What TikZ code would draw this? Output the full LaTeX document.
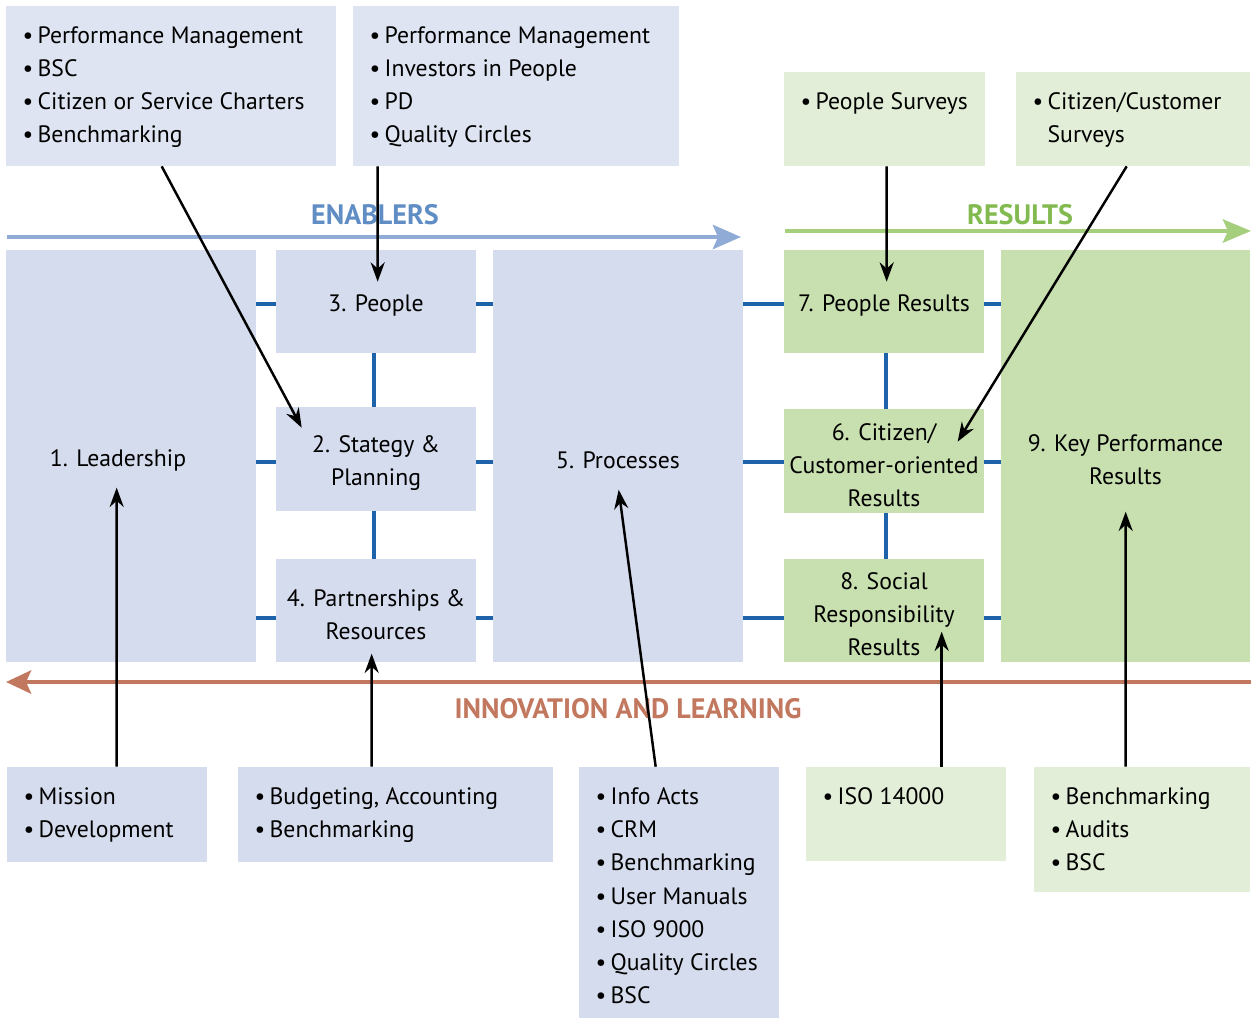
\documentclass[tikz,border=0pt]{standalone}
\usepackage{fontspec}
\setmainfont{PT Sans}
\usetikzlibrary{arrows.meta, calc}
\definecolor{boxblue}{RGB}{213,220,237}
\definecolor{topblue}{RGB}{222,228,241}
\definecolor{boxgreen}{RGB}{200,223,175}
\definecolor{lightgreen}{RGB}{226,238,215}
\definecolor{linkblue}{RGB}{30,98,170}
\definecolor{enabline}{RGB}{143,171,214}
\definecolor{enabtext}{RGB}{96,141,196}
\definecolor{resline}{RGB}{165,206,125}
\definecolor{restext}{RGB}{130,186,80}
\definecolor{innocol}{RGB}{194,120,95}
\newcommand{\blt}{\textbullet\hspace{2.5pt}}
\tikzset{
    %Define standard arrow tip
    >={Stealth[length=11pt,width=8pt]},
}

\begin{document}
\begin{tikzpicture}[x=0.02cm, y=-0.02cm,
    font=\fontsize{13.5}{18.8}\selectfont,
    box/.style = {inner sep=0pt, align=center, minimum width=4cm},
    enabbox/.style = {box, fill=boxblue},
    resbox/.style = {box, fill=boxgreen},
    crit/.style = {label={[align=center, yshift=-0.08cm]center:#1}},
    list/.style = {anchor=north west, align=left, inner sep=0pt,
                   xshift=0.33cm, yshift=-0.42cm},
    link/.style = {linkblue, line width=1.8pt},
    pointer/.style = {->, black, line width=1.4pt},
    flow/.style = {line width=2.8pt},
    head/.style = {font=\fontsize{16}{18}\selectfont\bfseries},
  ]
  \useasboundingbox (0,0) rectangle (1253,1019);

  % tools above
  \node[box, fill=topblue, minimum width=6.6cm, minimum height=3.2cm,
        label={[list]north west:\blt Performance Management\\
          \blt BSC\\ \blt Citizen or Service Charters\\
          \blt Benchmarking}] (tl) at (171,86) {};
  \node[box, fill=topblue, minimum width=6.52cm, minimum height=3.2cm,
        label={[list]north west:\blt Performance Management\\
          \blt Investors in People\\ \blt PD\\
          \blt Quality Circles}] (tm) at (516,86) {};
  \node[box, fill=lightgreen, minimum width=4.02cm, minimum height=1.88cm,
        label={[list]north west:\blt People Surveys}] (ps) at (884.5,119) {};
  \node[box, fill=lightgreen, minimum width=4.68cm, minimum height=1.88cm,
        label={[list]north west:\blt Citizen/Customer\\
          \phantom{\blt}Surveys}] (ccs) at (1133,119) {};

  % criteria
  \node[enabbox, minimum width=5cm, minimum height=8.24cm,
        label={[xshift=-0.26cm, yshift=-0.08cm]center:1. Leadership}] (lead) at (131,456) {};
  \node[enabbox, minimum height=2.06cm, crit={3. People}] (people) at (376,301.5) {};
  \node[enabbox, minimum height=2.08cm, crit={2. Stategy \&\\Planning}] (strat) at (376,459) {};
  \node[enabbox, minimum height=2.06cm, crit={4. Partnerships \&\\Resources}] (partner) at (376,610.5) {};
  \node[enabbox, minimum width=5cm, minimum height=8.24cm, crit={5. Processes}] (proc) at (618,456) {};
  \node[resbox, minimum height=2.06cm, crit={7. People Results}] (pres) at (884,301.5) {};
  \node[resbox, minimum height=2.08cm, crit={6. Citizen/\\Customer-oriented\\Results}] (cres) at (884,461) {};
  \node[resbox, minimum height=2.06cm, crit={8. Social\\Responsibility\\Results}] (sres) at (884,610.5) {};
  \node[resbox, minimum width=4.98cm, minimum height=8.24cm, crit={9. Key Performance\\Results}] (kpr) at (1125.5,456) {};

  \foreach \n/\s in {people/-0.05, strat/-0.06, partner/-0.15} {
    \draw[link] ([yshift=\s cm]\n.west) -- ([yshift=\s cm]\n.west -| lead.east);
    \draw[link] ([yshift=\s cm]\n.east) -- ([yshift=\s cm]\n.east -| proc.west);
  }
  \foreach \n/\s in {pres/-0.05, cres/-0.02, sres/-0.15} {
    \draw[link] ([yshift=\s cm]\n.west) -- ([yshift=\s cm]\n.west -| proc.east);
    \draw[link] ([yshift=\s cm]\n.east) -- ([yshift=\s cm]\n.east -| kpr.west);
  }
  \draw[link] ([xshift=-0.04cm]people.south) -- ([xshift=-0.04cm]strat.north);
  \draw[link] ([xshift=-0.04cm]strat.south) -- ([xshift=-0.04cm]partner.north);
  \draw[link] ([xshift=0.04cm]pres.south) -- ([xshift=0.04cm]cres.north);
  \draw[link] ([xshift=0.04cm]cres.south) -- ([xshift=0.04cm]sres.north);

  % main flows
  \coordinate (enab-l) at (7,237);
  \coordinate (enab-r) at (741,237);
  \coordinate (res-l) at (785,231);
  \coordinate (res-r) at (1251,231);
  \coordinate (inno-r) at (1251,682);
  \coordinate (inno-l) at (6,682);
  \draw[flow, enabline, -{Stealth[length=0.56cm, width=0.48cm, inset=0.1cm]}] (enab-l) -- (enab-r);
  \draw[flow, resline, -{Stealth[length=0.56cm, width=0.46cm, inset=0.1cm]}] (res-l) -- (res-r);
  \draw[flow, innocol, -{Stealth[length=0.5cm, width=0.46cm, inset=0.1cm]}] (inno-r) -- (inno-l);
  \node[head, enabtext] (enablers) at (375,215) {ENABLERS};
  \node[head, restext] (results) at (1020,215) {RESULTS};
  \node[head, innocol] (innovation) at (628,709) {INNOVATION AND LEARNING};

  % tools below
  \node[box, fill=boxblue, minimum height=1.9cm,
        label={[list]north west:\blt Mission\\ \blt Development}] (mission) at (107,814.5) {};
  \node[box, fill=boxblue, minimum width=6.3cm, minimum height=1.9cm,
        label={[list]north west:\blt Budgeting, Accounting\\
          \blt Benchmarking}] (budget) at (395.5,814.5) {};
  \node[box, fill=boxblue, minimum height=5.02cm,
        label={[list]north west:\blt Info Acts\\ \blt CRM\\
          \blt Benchmarking\\ \blt User Manuals\\
          \blt ISO 9000\\ \blt Quality Circles\\
          \blt BSC}] (info) at (679,892.5) {};
  \node[box, fill=lightgreen, minimum height=1.88cm,
        label={[list]north west:\blt ISO 14000}] (iso) at (906,814) {};
  \node[box, fill=lightgreen, minimum width=4.32cm, minimum height=2.5cm,
        label={[list]north west:\blt Benchmarking\\ \blt Audits\\
          \blt BSC}] (bench) at (1142,829.5) {};

  % pointers
  \draw[pointer] ($(tl.south west)+(156,0)$) -- ($(strat.north west)+(26,21)$);
  \draw[pointer] ($(tm.south west)+(25,0)$) -- ($(people.north west)+(102,32)$);
  \draw[pointer] ($(ps.south west)+(103,0)$) -- ($(pres.north west)+(103,32)$);
  \draw[pointer] ($(ccs.south west)+(111,0)$) -- ($(cres.north west)+(174,33)$);
  \draw[pointer] ($(mission.north west)+(110,0)$) -- ($(lead.north west)+(111,238)$);
  \draw[pointer] ($(budget.north west)+(134,0)$) -- ($(partner.north west)+(96,95)$);
  \draw[pointer] ($(info.north west)+(77,0)$) -- ($(proc.north west)+(126,240)$);
  \draw[pointer] ($(iso.north west)+(136,0)$) -- ($(sres.north west)+(158,73)$);
  \draw[pointer] ($(bench.north west)+(92,0)$) -- ($(kpr.north west)+(125,262)$);
\end{tikzpicture}
\end{document}
